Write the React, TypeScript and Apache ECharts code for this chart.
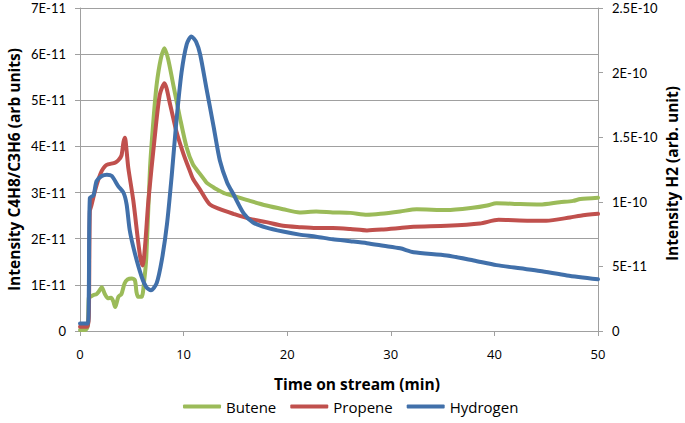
import React, { useEffect, useRef } from "react";
import * as echarts from "echarts";

// Time on stream (min) and intensities. Butene/Propene in units of 1E-11 (left axis),
// Hydrogen in units of 1E-10 (right axis).
const buteneTime = [0, 0.5, 0.75, 0.85, 1.0, 1.3, 1.6, 1.8, 2.1, 2.4, 2.7, 3.0, 3.2, 3.4, 3.7, 4.0, 4.3, 4.6, 5.0, 5.3, 5.45, 5.6, 5.95, 6.2, 6.4, 6.76, 7.1, 7.4, 7.8, 8.15, 8.5, 9.0, 9.65, 10.3, 10.9, 11.6, 12.0, 12.2, 12.9, 13.2, 14.0, 14.8, 16.4, 18.0, 19.6, 21.2, 22.8, 24.4, 26.1, 27.7, 29.0, 30.9, 32.5, 35.4, 37.9, 39.3, 40.2, 42.5, 44.4, 46.3, 47.6, 48.3, 50];
const buteneValue = [0.02, 0.02, 0.1, 0.72, 0.74, 0.78, 0.8, 0.85, 0.95, 0.8, 0.71, 0.72, 0.65, 0.52, 0.74, 0.8, 1.03, 1.12, 1.14, 1.1, 0.85, 0.74, 0.74, 1.1, 1.6, 3.54, 4.6, 5.34, 5.9, 6.13, 5.9, 5.34, 4.62, 3.97, 3.61, 3.4, 3.28, 3.22, 3.11, 3.07, 2.98, 2.93, 2.82, 2.72, 2.64, 2.57, 2.59, 2.57, 2.56, 2.52, 2.54, 2.59, 2.64, 2.62, 2.67, 2.72, 2.77, 2.75, 2.74, 2.79, 2.82, 2.86, 2.89];

const propeneTime = [0, 0.7, 0.85, 0.95, 1.1, 1.45, 1.8, 2.1, 2.4, 2.7, 3.4, 3.7, 4.0, 4.2, 4.34, 4.5, 4.66, 5.15, 5.6, 5.85, 6.05, 6.3, 6.6, 7.24, 7.7, 8.15, 8.7, 9.3, 10.0, 10.6, 10.9, 11.6, 12.5, 13.5, 14.8, 16.4, 18.0, 19.6, 21.2, 22.8, 24.4, 26.1, 27.7, 29.3, 30.9, 32.2, 35.4, 38.6, 40.4, 43.4, 45.0, 47.3, 48.3, 50];
const propeneValue = [0.09, 0.09, 0.3, 2.6, 2.72, 3.04, 3.3, 3.47, 3.57, 3.61, 3.65, 3.7, 3.8, 4.1, 4.19, 3.9, 3.54, 2.82, 1.96, 1.55, 1.42, 1.9, 2.82, 4.26, 5.12, 5.37, 4.91, 4.33, 3.83, 3.47, 3.3, 3.06, 2.75, 2.64, 2.54, 2.43, 2.36, 2.28, 2.25, 2.23, 2.23, 2.21, 2.18, 2.2, 2.23, 2.26, 2.28, 2.33, 2.41, 2.39, 2.39, 2.46, 2.5, 2.54];

const hydrogenTime = [0, 0.75, 0.85, 0.95, 1.3, 1.6, 2.1, 2.6, 3.06, 3.7, 4.2, 4.5, 4.8, 5.3, 5.95, 6.4, 6.85, 7.4, 7.9, 8.4, 8.85, 9.3, 9.8, 10.3, 10.75, 11.2, 11.6, 12.2, 12.9, 13.5, 14.2, 14.8, 15.8, 16.7, 18.0, 19.6, 21.2, 22.8, 24.4, 26.1, 27.7, 29.3, 30.9, 32.2, 35.4, 38.0, 40.2, 42.5, 44.4, 47.0, 50];
const hydrogenValue = [0.059, 0.059, 0.3, 1.03, 1.05, 1.16, 1.2, 1.21, 1.2, 1.12, 1.07, 0.98, 0.78, 0.6, 0.42, 0.34, 0.315, 0.37, 0.55, 0.83, 1.2, 1.62, 2.0, 2.22, 2.28, 2.24, 2.14, 1.88, 1.58, 1.32, 1.15, 1.06, 0.91, 0.84, 0.8, 0.77, 0.746, 0.73, 0.71, 0.695, 0.68, 0.66, 0.64, 0.61, 0.585, 0.546, 0.51, 0.485, 0.465, 0.43, 0.4];

const leftTicks = [0, 1, 2, 3, 4, 5, 6, 7];
const rightTickLabels: Record<string, string> = { "0": "0", "0.5": "5E-11", "1": "1E-10", "1.5": "1.5E-10", "2": "2E-10", "2.5": "2.5E-10" };

const FONT = "Open Sans";
const TICK_FONT = "Lato";
const GRAY = "#A0A0A0";

const pairs = (xs: number[], ys: number[]) => xs.map((x, i) => [x, ys[i]]);

export default function App() {
  const ref = useRef<HTMLDivElement>(null);
  useEffect(() => {
    document.body.style.margin = "0";
    const chart = echarts.init(ref.current!, undefined, { renderer: "svg" });
    const lineSeries = (name: string, data: number[][], color: string, yAxisIndex: number) => ({
      name,
      type: "line",
      data,
      yAxisIndex,
      showSymbol: false,
      symbol: "none",
      smooth: 0.25,
      lineStyle: { color, width: 4, cap: "round", join: "round" },
      itemStyle: { color },
    });
    const titleStyle = { fontFamily: FONT, fontSize: 15.5, fontWeight: "bold", color: "#000" };
    const tickStyle = { fontFamily: TICK_FONT, fontSize: 13, color: "#000" };
    chart.setOption({
      animation: false,
      backgroundColor: "#FFFFFF",
      textStyle: { fontFamily: FONT },
      grid: { left: 80, right: 87, top: 8, bottom: 92, outerBoundsMode: "none", containLabel: false },
      legend: {
        bottom: 4,
        left: 178,
        icon: "roundRect",
        itemWidth: 38,
        itemHeight: 4,
        itemGap: 14,
        textStyle: { fontFamily: FONT, fontSize: 15, color: "#000" },
        data: ["Butene", "Propene", "Hydrogen"],
      },
      xAxis: {
        type: "value",
        min: 0,
        max: 50,
        interval: 10,
        name: "Time on stream (min)",
        nameLocation: "middle",
        nameGap: 45,
        nameMoveOverlap: false,
        nameTextStyle: { ...titleStyle, padding: [0, 0, 0, 36] },
        axisLine: { show: true, lineStyle: { color: GRAY, width: 1 } },
        axisTick: { show: true, length: 5, lineStyle: { color: GRAY } },
        axisLabel: { ...tickStyle, fontFamily: FONT, margin: 16 },
        splitLine: { show: false },
      },
      yAxis: [
        {
          type: "value",
          min: leftTicks[0],
          max: leftTicks[leftTicks.length - 1],
          interval: 1,
          name: "Intensity C4H8/C3H6 (arb units)",
          nameLocation: "middle",
          nameGap: 58,
          nameMoveOverlap: false,
          nameTextStyle: titleStyle,
          axisLine: { show: true, lineStyle: { color: GRAY, width: 1 } },
          axisTick: { show: true, length: 5, lineStyle: { color: GRAY } },
          axisLabel: {
            ...tickStyle,
            margin: 14,
            formatter: (v: number) => (v === 0 ? "0" : `${v}E-11`),
          },
          splitLine: { show: true, lineStyle: { color: GRAY, width: 1 } },
        },
        {
          type: "value",
          min: 0,
          max: 2.5,
          interval: 0.5,
          position: "right",
          name: "Intensity H2 (arb. unit)",
          nameLocation: "middle",
          nameGap: 65,
          nameRotate: 90,
          nameMoveOverlap: false,
          nameTextStyle: { ...titleStyle, lineHeight: 18, padding: [0, 8, 0, 0] },
          axisLine: { show: true, lineStyle: { color: GRAY, width: 1 } },
          axisTick: { show: true, length: 5, lineStyle: { color: GRAY } },
          axisLabel: {
            ...tickStyle,
            margin: 14,
            formatter: (v: number) => rightTickLabels[String(Number(v.toFixed(2)))] ?? String(v),
          },
          splitLine: { show: false },
        },
      ],
      series: [
        lineSeries("Butene", pairs(buteneTime, buteneValue), "#9BBB59", 0),
        lineSeries("Propene", pairs(propeneTime, propeneValue), "#C0504D", 0),
        lineSeries("Hydrogen", pairs(hydrogenTime, hydrogenValue), "#4170AA", 1),
      ],
    });
    return () => chart.dispose();
  }, []);
  return <div ref={ref} style={{ width: 685, height: 423 }} />;
}
